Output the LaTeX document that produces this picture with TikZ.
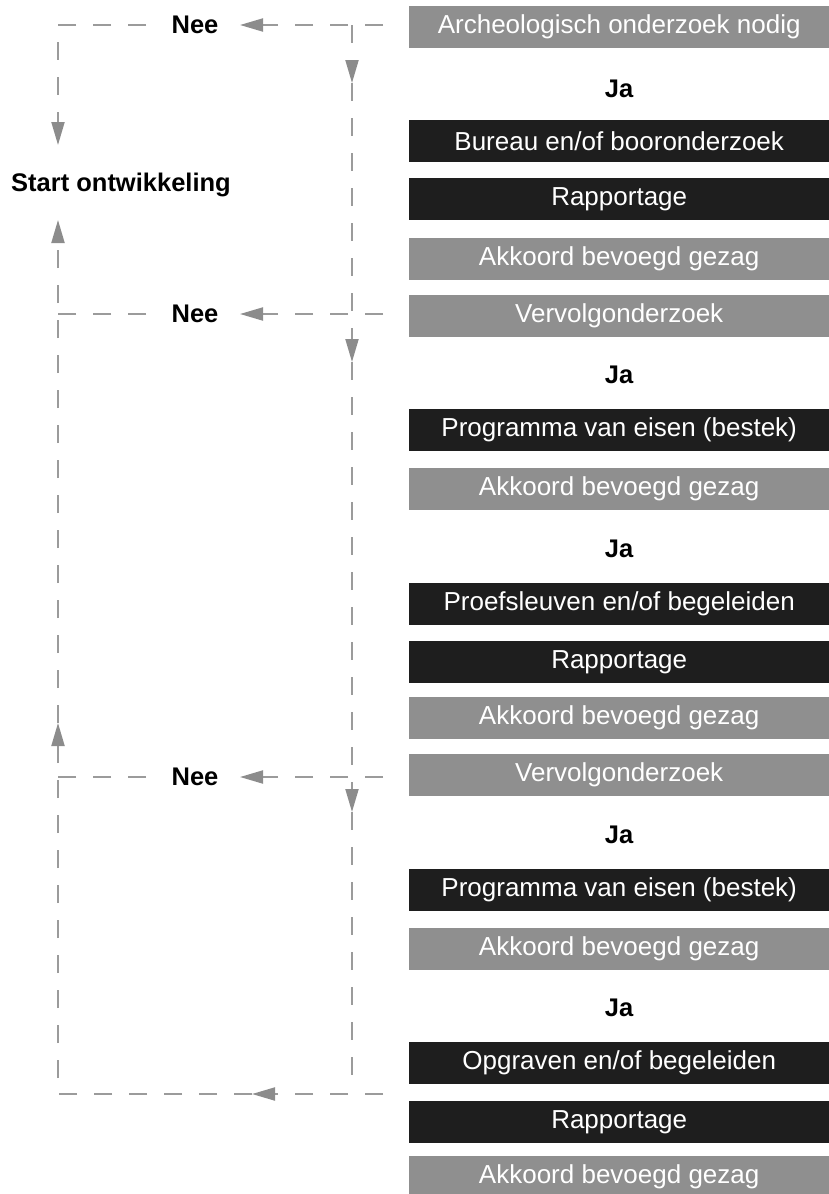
\documentclass[tikz,border=0pt]{standalone}
\usepackage{fontspec}
\setmainfont{Liberation Sans}
\usetikzlibrary{arrows.meta}
\definecolor{boxgray}{RGB}{143,143,143}
\definecolor{boxblack}{RGB}{30,30,30}
\definecolor{linegray}{RGB}{155,155,155}
\definecolor{arrgray}{RGB}{140,140,140}
\begin{document}
\begin{tikzpicture}[x=1pt,y=-1pt,
  stepbox/.style={minimum width=420pt, minimum height=42pt, inner sep=0pt, text=white,
    font=\fontsize{26}{30}\selectfont, anchor=north west},
  graybox/.style={stepbox, fill=boxgray},
  blackbox/.style={stepbox, fill=boxblack},
  lbl/.style={font=\fontsize{25.5}{30}\selectfont\bfseries, inner sep=0pt},
  conn/.style={draw=linegray, line width=2pt, dash pattern=on 18pt off 17pt},
  arr/.style={conn, -{Triangle[length=23pt,width=13pt,color=arrgray]}}
]
\useasboundingbox (0,0) rectangle (829,1194);
% boxes
\node[graybox]  (b1)  at (409,6)    {Archeologisch onderzoek nodig};
\node[blackbox] (b2)  at (409,120)  {Bureau en/of booronderzoek};
\node[blackbox] (b3)  at (409,178)  {Rapportage};
\node[graybox]  (b4)  at (409,238)  {Akkoord bevoegd gezag};
\node[graybox]  (b5)  at (409,295)  {Vervolgonderzoek};
\node[blackbox] (b6)  at (409,409)  {Programma van eisen (bestek)};
\node[graybox]  (b7)  at (409,468)  {Akkoord bevoegd gezag};
\node[blackbox] (b8)  at (409,583)  {Proefsleuven en/of begeleiden};
\node[blackbox] (b9)  at (409,641)  {Rapportage};
\node[graybox]  (b10) at (409,697)  {Akkoord bevoegd gezag};
\node[graybox]  (b11) at (409,754)  {Vervolgonderzoek};
\node[blackbox] (b12) at (409,869)  {Programma van eisen (bestek)};
\node[graybox]  (b13) at (409,928)  {Akkoord bevoegd gezag};
\node[blackbox] (b14) at (409,1042) {Opgraven en/of begeleiden};
\node[blackbox] (b15) at (409,1101) {Rapportage};
\node[graybox]  (b16) at (409,1156) {Akkoord bevoegd gezag};
% labels
\node[lbl] (ja1) at (619,89)   {Ja};
\node[lbl] (ja2) at (619,375)  {Ja};
\node[lbl] (ja3) at (619,549)  {Ja};
\node[lbl] (ja4) at (619,835)  {Ja};
\node[lbl] (ja5) at (619,1008) {Ja};
\node[lbl] (start) at (121,185) {Start ontwikkeling};
\node[lbl] (nee1) at (195,25)  {Nee};
\node[lbl] (nee2) at (195,314) {Nee};
\node[lbl] (nee3) at (195,777) {Nee};
% coordinates
\coordinate (h1r) at (383,25);   \coordinate (h1t) at (240,25);
\coordinate (h1l) at (146,25);   \coordinate (c1)  at (58,25);
\coordinate (s1)  at (58,145);
\coordinate (h2r) at (383,314);  \coordinate (h2t) at (240,314);
\coordinate (h2l) at (146,314);  \coordinate (c2)  at (58,314);
\coordinate (h3r) at (383,777);  \coordinate (h3t) at (240,777);
\coordinate (h3l) at (146,777);  \coordinate (c3)  at (58,777);
\coordinate (v0) at (352,25);
\coordinate (v1) at (352,83);
\coordinate (v2) at (352,362);
\coordinate (v3) at (352,812);
\coordinate (v4) at (352,1083);
\coordinate (h4r) at (383,1094); \coordinate (h4t) at (252,1094);
\coordinate (c4)  at (58,1094);
\coordinate (u1) at (58,723);
\coordinate (u2) at (58,220);
% connectors
\draw[arr] (h1r) -- (h1t);
\draw[arr] (h1l) -- (c1) -- (s1);
\draw[arr] (h2r) -- (h2t);
\draw[conn] (h2l) -- (c2);
\draw[arr] (h3r) -- (h3t);
\draw[conn] (h3l) -- (c3);
\draw[arr] (v0) -- (v1);
\draw[arr] (v1) -- (v2);
\draw[arr] (v2) -- (v3);
\draw[conn] (v3) -- (v4);
\draw[arr] (h4r) -- (h4t);
\draw[arr] (h4t) -- (c4) -- (u1);
\draw[arr] (u1) -- (u2);
\end{tikzpicture}
\end{document}
